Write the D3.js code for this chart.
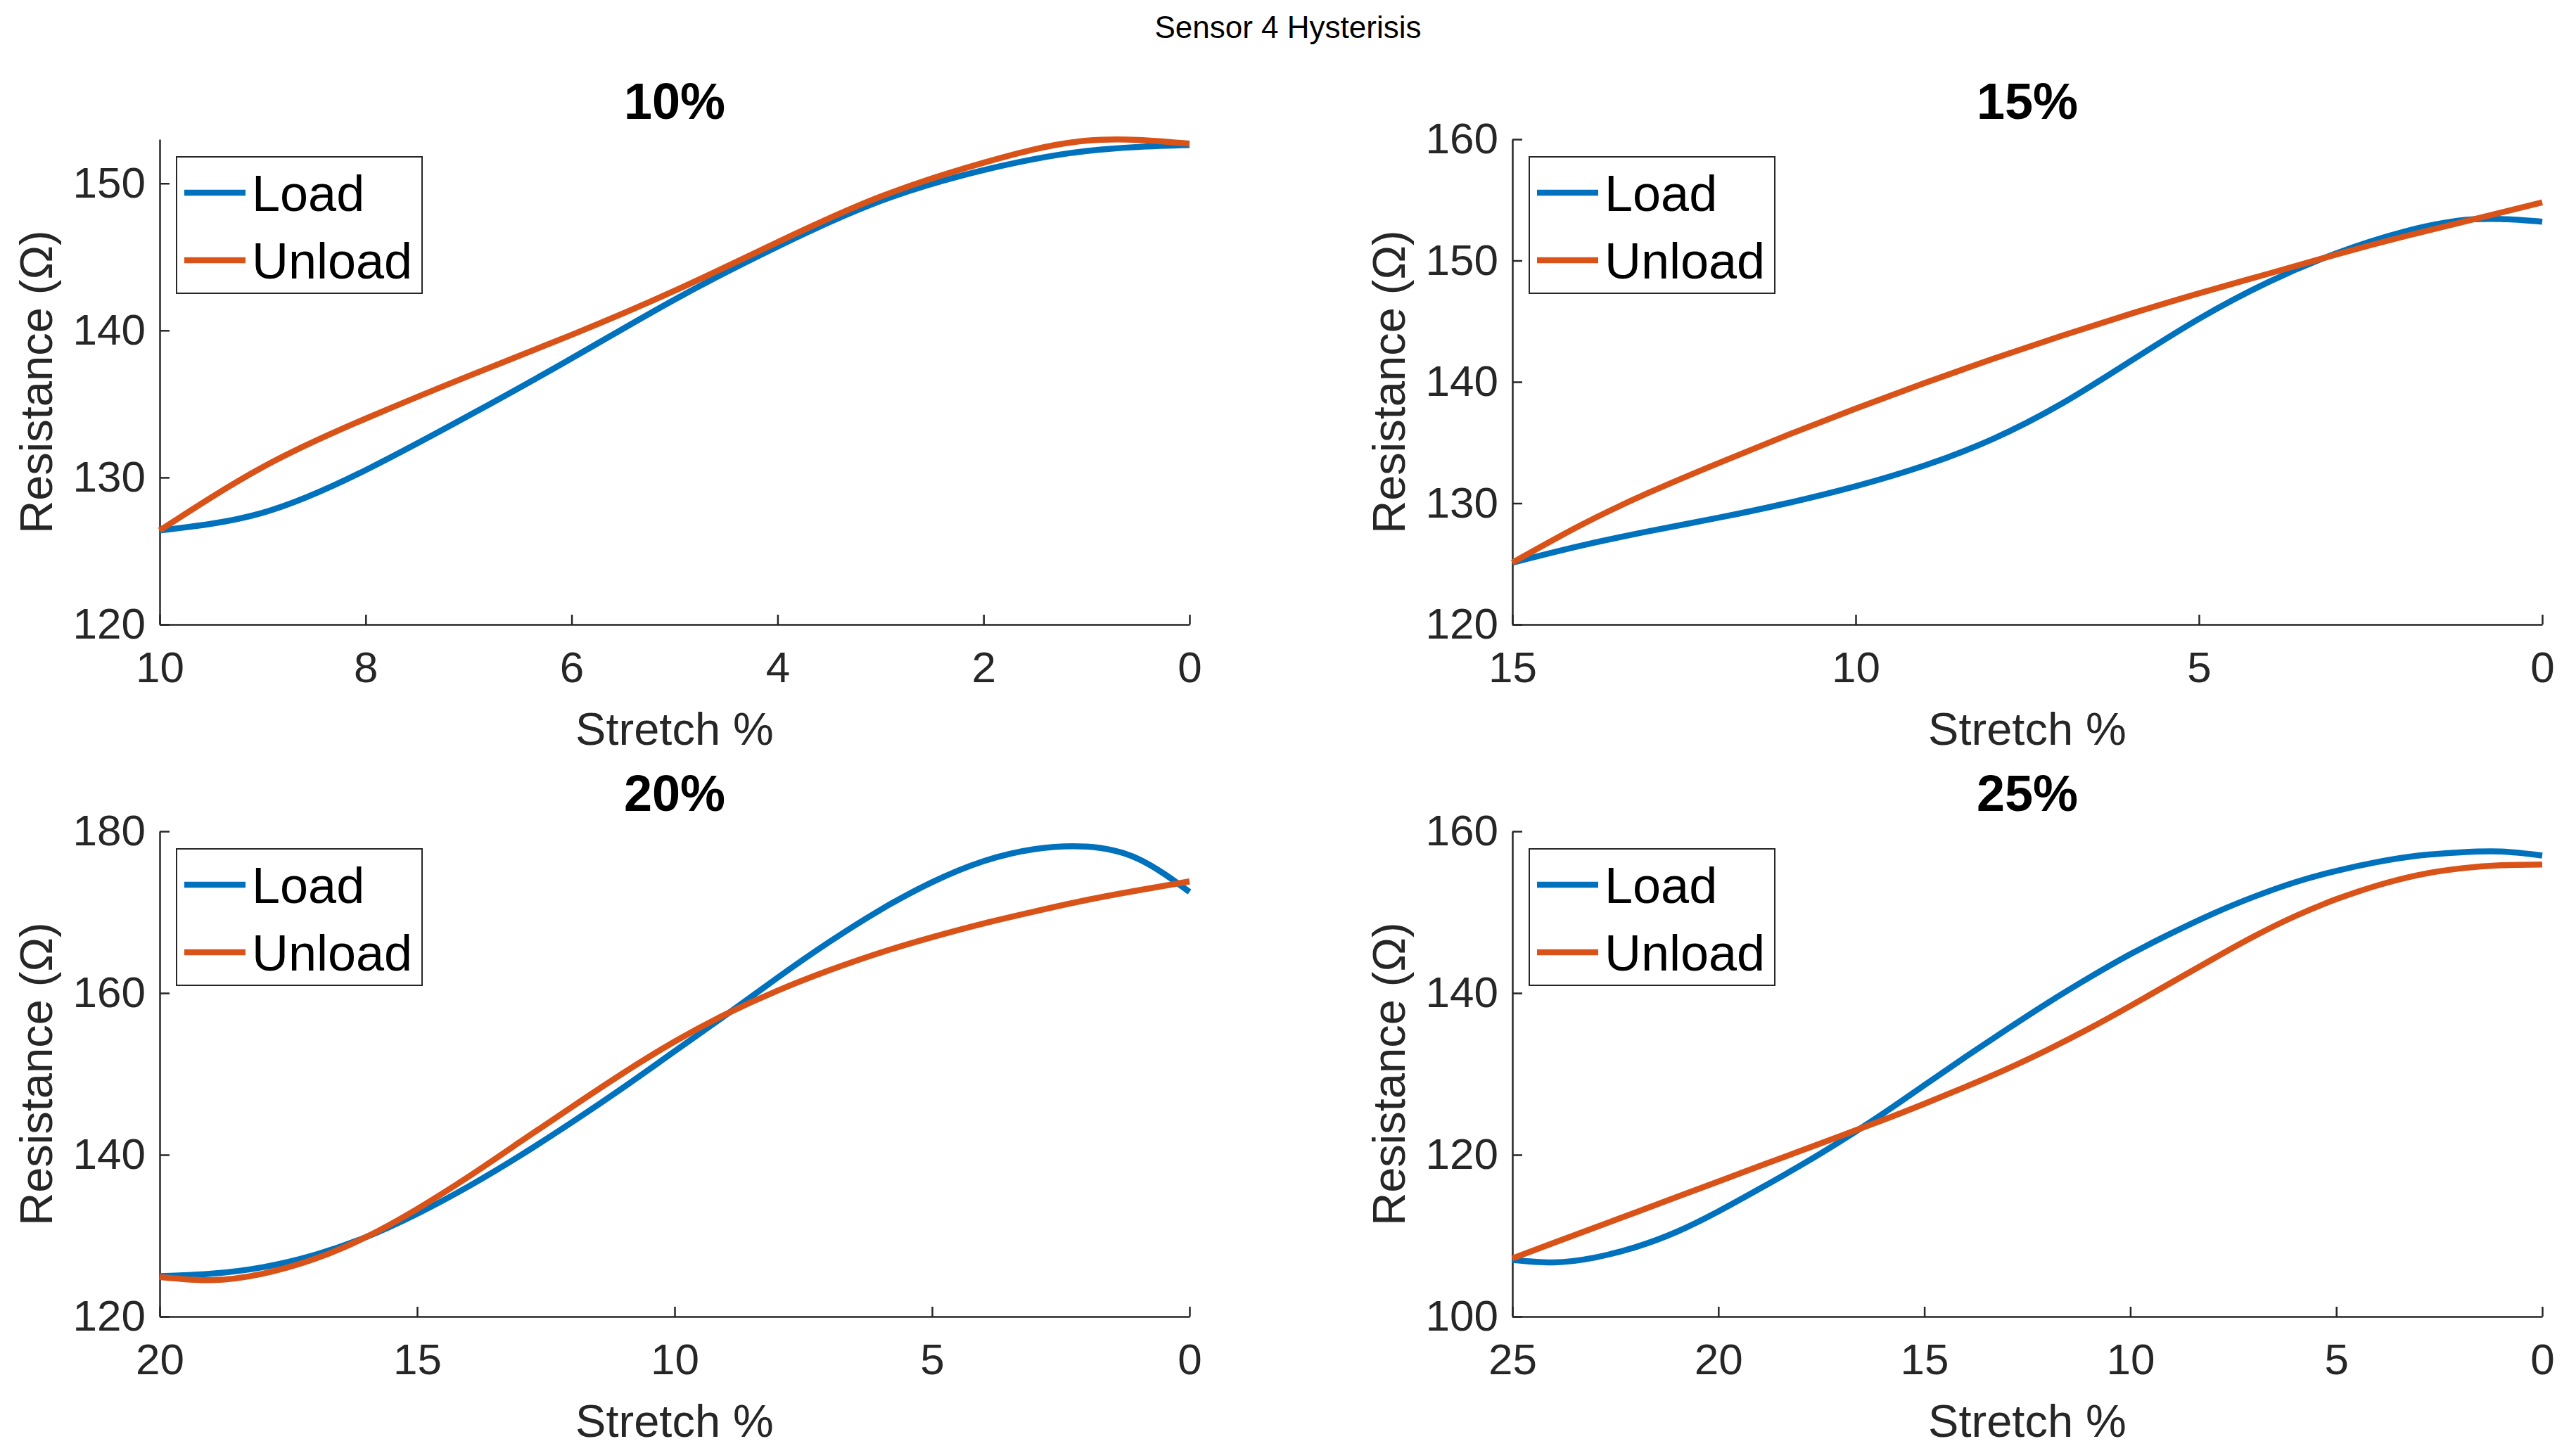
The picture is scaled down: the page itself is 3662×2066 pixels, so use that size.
<!DOCTYPE html>
<html>
<head>
<meta charset="utf-8">
<script src="https://cdn.jsdelivr.net/npm/d3@7"></script>
<style>
  body { margin: 0; background: #fff; }
  text { font-family: "Liberation Sans", Arial, Helvetica, sans-serif; fill: #262626; }
</style>
</head>
<body>
<svg id="fig" width="3662" height="2066"></svg>
<script>
// values, stretch goes from max back to 0 in even steps
var stretch10 = [10, 9, 8, 7, 6, 5, 4, 3, 2, 1, 0];
var load10    = [126.4, 127.6, 130.5, 134.2, 138.1, 142.1, 145.7, 148.8, 150.9, 152.2, 152.6];
var unload10  = [126.4, 130.7, 134.0, 136.9, 139.7, 142.7, 146.0, 149.1, 151.4, 152.9, 152.7];

var stretch15 = [15, 14, 13, 12, 11, 10, 9, 8, 7, 6, 5, 4, 3, 2, 1, 0];
var load15    = [125.1, 126.5, 127.7, 128.8, 130.0, 131.4, 133.1, 135.3, 138.2, 141.7, 145.2, 148.2, 150.6, 152.4, 153.4, 153.2];
var unload15  = [125.1, 128.2, 130.9, 133.3, 135.6, 137.8, 139.9, 141.9, 143.8, 145.6, 147.3, 148.9, 150.5, 152.0, 153.4, 154.8];

var stretch20 = [20, 19, 18, 17, 16, 15, 14, 13, 12, 11, 10, 9, 8, 7, 6, 5, 4, 3, 2, 1, 0];
var load20    = [125.0, 125.3, 126.1, 127.6, 129.8, 132.7, 136.1, 139.9, 144.0, 148.3, 152.8, 157.3, 161.9, 166.3, 170.3, 173.7, 176.3, 177.8, 178.1, 176.6, 172.5];
var unload20  = [124.9, 124.5, 125.3, 127.1, 129.8, 133.3, 137.3, 141.6, 145.9, 150.1, 154.0, 157.4, 160.3, 162.8, 165.0, 166.9, 168.6, 170.1, 171.5, 172.7, 173.8];

var stretch25 = [25, 24, 23, 22, 21, 20, 19, 18, 17, 16, 15, 14, 13, 12, 11, 10, 9, 8, 7, 6, 5, 4, 3, 2, 1, 0];
var load25    = [107.0, 106.7, 107.3, 108.6, 110.5, 113.0, 115.8, 118.7, 121.8, 125.1, 128.6, 132.1, 135.5, 138.8, 141.9, 144.8, 147.4, 149.8, 151.9, 153.7, 155.1, 156.2, 157.0, 157.4, 157.5, 157.0];
var unload25  = [107.2, 109.1, 111.0, 112.9, 114.8, 116.7, 118.6, 120.5, 122.4, 124.3, 126.3, 128.4, 130.6, 133.0, 135.6, 138.4, 141.3, 144.2, 147.0, 149.5, 151.6, 153.3, 154.6, 155.4, 155.8, 155.9];

var titles = ['10%', '15%', '20%', '25%'];
var xTicks = [[10, 8, 6, 4, 2, 0], [15, 10, 5, 0], [20, 15, 10, 5, 0], [25, 20, 15, 10, 5, 0]];
var yTicks = [[120, 130, 140, 150], [120, 130, 140, 150, 160], [120, 140, 160, 180], [100, 120, 140, 160]];
var yLims  = [[120, 153], [120, 160], [120, 180], [100, 160]];
var seriesNames = ['Load', 'Unload'];
var colors = ['#0072BD', '#D95319'];

var panels = [
  {x: stretch10, s: [load10, unload10]},
  {x: stretch15, s: [load15, unload15]},
  {x: stretch20, s: [load20, unload20]},
  {x: stretch25, s: [load25, unload25]}
];

var svg = d3.select('#fig');
var colX = [227, 2150], rowY = [198, 1182];
var pw = 1464, ph = 690;

svg.append('text')
  .attr('x', 1831).attr('y', 54)
  .attr('text-anchor', 'middle')
  .style('font-size', '44px')
  .style('fill', '#000')
  .text('Sensor 4 Hysterisis');

panels.forEach(function (p, i) {
  var x0 = colX[i % 2], y0 = rowY[Math.floor(i / 2)];
  var g = svg.append('g').attr('transform', 'translate(' + x0 + ',' + y0 + ')');

  var x = d3.scaleLinear().domain([p.x[0], 0]).range([0, pw]);
  var y = d3.scaleLinear().domain(yLims[i]).range([ph, 0]);

  var xa = g.append('g').attr('transform', 'translate(0,' + ph + ')')
    .call(d3.axisBottom(x).tickValues(xTicks[i]).tickSizeInner(-14).tickSizeOuter(0).tickPadding(38).tickFormat(d3.format('d')));
  var ya = g.append('g')
    .call(d3.axisLeft(y).tickValues(yTicks[i]).tickSizeInner(-14).tickSizeOuter(0).tickPadding(20).tickFormat(d3.format('d')));
  [xa, ya].forEach(function (a) {
    a.select('.domain').attr('stroke', '#262626').attr('stroke-width', 2.5);
    a.selectAll('.tick line').attr('stroke', '#262626').attr('stroke-width', 2.5);
    a.selectAll('.tick text').style('font-size', '62px').style('font-family', '"Liberation Sans", Arial, sans-serif').attr('fill', '#262626');
  });

  // smooth fitted curves, so a natural spline through the read points
  var line = d3.line()
    .x(function (d) { return x(d[0]); })
    .y(function (d) { return y(d[1]); })
    .curve(d3.curveNatural);

  p.s.forEach(function (vals, k) {
    g.append('path')
      .datum(p.x.map(function (v, j) { return [v, vals[j]]; }))
      .attr('fill', 'none')
      .attr('stroke', colors[k])
      .attr('stroke-width', 8.5)
      .attr('d', line);
  });

  g.append('text')
    .attr('x', pw / 2).attr('y', -29)
    .attr('text-anchor', 'middle')
    .style('font-size', '72px').style('font-weight', 'bold').style('fill', '#000')
    .text(titles[i]);

  g.append('text')
    .attr('x', pw / 2).attr('y', ph + 171)
    .attr('text-anchor', 'middle')
    .style('font-size', '65px')
    .text('Stretch %');

  g.append('text')
    .attr('transform', 'translate(-153,' + (ph / 2) + ') rotate(-90)')
    .attr('text-anchor', 'middle')
    .style('font-size', '65px')
    .text('Resistance (\u03A9)');

  // legend box
  var lg = g.append('g').attr('transform', 'translate(24,25)');
  lg.append('rect').attr('width', 349).attr('height', 194)
    .attr('fill', '#fff').attr('stroke', '#262626').attr('stroke-width', 2);
  seriesNames.forEach(function (name, k) {
    var ly = 51 + k * 96;
    lg.append('line').attr('x1', 11).attr('x2', 98).attr('y1', ly).attr('y2', ly)
      .attr('stroke', colors[k]).attr('stroke-width', 8.5);
    lg.append('text').attr('x', 107).attr('y', ly).attr('dy', '0.36em')
      .style('font-size', '72px').style('fill', '#000')
      .text(name);
  });
});
</script>
</body>
</html>
